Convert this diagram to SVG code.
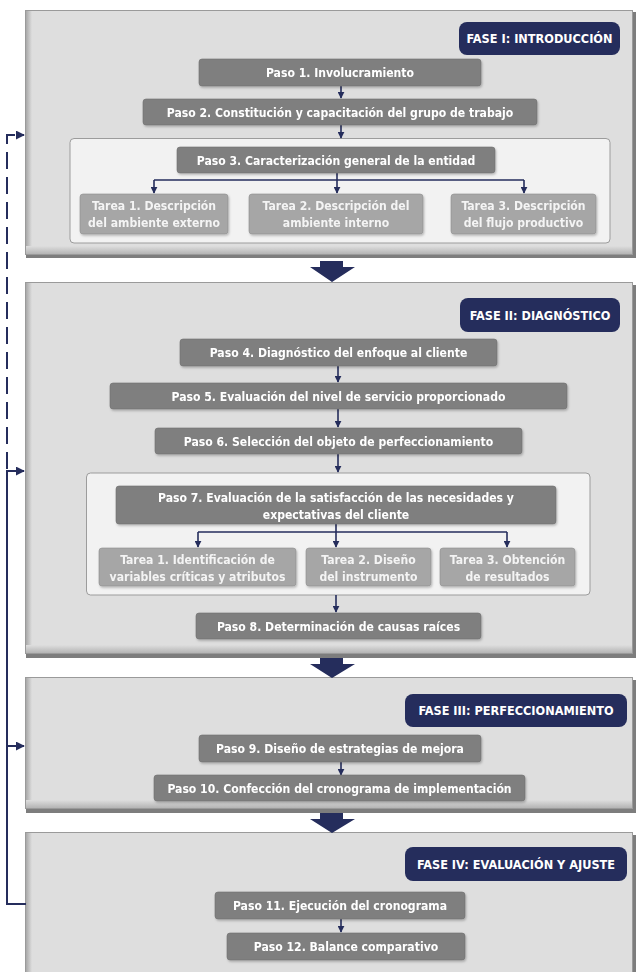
<svg xmlns="http://www.w3.org/2000/svg" width="636" height="972" viewBox="0 0 636 972">
<defs>
<style>
.phase{fill:#dedede;stroke:#9a9a9a;stroke-width:1}
.pshadow{fill:#7d7d7d}
.hdr{fill:#252d5c}
.hdrt{fill:#ffffff;font-family:"Liberation Sans Narrow","DejaVu Sans Condensed","Liberation Sans",sans-serif;font-weight:bold;font-size:12.6px;text-anchor:middle}
.paso{fill:#7f7f7f;stroke:#6e6e6e;stroke-width:0.6}
.tarea{fill:#a6a6a6;stroke:#8e8e8e;stroke-width:0.6}
.cont{fill:#f2f2f2;stroke:#9c9c9c;stroke-width:1}
.t{fill:#ffffff;font-family:"Liberation Sans Narrow","DejaVu Sans Condensed","Liberation Sans",sans-serif;font-weight:bold;font-size:12.1px;text-anchor:middle}
.tt{fill:#f4f4f4;font-family:"Liberation Sans Narrow","DejaVu Sans Condensed","Liberation Sans",sans-serif;font-weight:bold;font-size:12.1px;text-anchor:middle}
.ln{fill:none;stroke:#252d5c;stroke-width:1.6}
.fb{fill:none;stroke:#252d5c;stroke-width:2}
.chev{fill:#252d5c}
</style>
<marker id="ah" viewBox="0 0 10 10" refX="9" refY="5" markerWidth="7" markerHeight="7" orient="auto" markerUnits="userSpaceOnUse">
<path d="M0,0 L10,5 L0,10 z" fill="#252d5c"/>
</marker>
<marker id="ah2" viewBox="0 0 10 10" refX="9" refY="5" markerWidth="9" markerHeight="9" orient="auto" markerUnits="userSpaceOnUse">
<path d="M0,0 L10,5 L0,10 z" fill="#252d5c"/>
</marker>
<linearGradient id="lband" x1="0" y1="0" x2="1" y2="0">
<stop offset="0" stop-color="#a8a8a8"/>
<stop offset="1" stop-color="#dedede"/>
</linearGradient>
<linearGradient id="bband" x1="0" y1="0" x2="0" y2="1">
<stop offset="0" stop-color="#dedede"/>
<stop offset="1" stop-color="#b4b4b4"/>
</linearGradient>
<filter id="sh" x="-10%" y="-20%" width="130%" height="160%">
<feDropShadow dx="1" dy="1.5" stdDeviation="1" flood-color="#000" flood-opacity="0.25"/>
</filter>
</defs>

<g id="phase1">
<rect class="pshadow" x="26" y="12" width="610" height="246"/>
<rect class="phase" x="25.5" y="10.5" width="607" height="244"/>
<rect x="26" y="11" width="6" height="243" fill="url(#lband)"/>
<rect x="26" y="246" width="606" height="8" fill="url(#bband)"/>
</g>
<g id="phase2">
<rect class="pshadow" x="26" y="285" width="610" height="373"/>
<rect class="phase" x="25.5" y="282.5" width="607" height="371"/>
<rect x="26" y="283" width="6" height="370" fill="url(#lband)"/>
<rect x="26" y="645" width="606" height="8" fill="url(#bband)"/>
</g>
<g id="phase3">
<rect class="pshadow" x="26" y="680" width="610" height="133"/>
<rect class="phase" x="25.5" y="677.5" width="607" height="131"/>
<rect x="26" y="678" width="6" height="130" fill="url(#lband)"/>
<rect x="26" y="800" width="606" height="8" fill="url(#bband)"/>
</g>
<g id="phase4">
<rect class="pshadow" x="26" y="835" width="610" height="140"/>
<rect class="phase" x="25.5" y="832.5" width="607" height="142"/>
<rect x="26" y="833" width="6" height="140" fill="url(#lband)"/>
</g>

<g id="chevrons">
<path class="chev" d="M320,261 H343 V267 H355 L332,282 L310,267 H320 Z"/>
<path class="chev" d="M320,658 H343 V664 H355 L332,678 L310,664 H320 Z"/>
<path class="chev" d="M320,813 H343 V819 H355 L332,833 L310,819 H320 Z"/>
</g>

<g id="hdr1"><rect class="hdr" x="459" y="22" width="161" height="33" rx="8"/><text class="hdrt" x="539.5" y="43">FASE I: INTRODUCCIÓN</text></g>
<g id="hdr2"><rect class="hdr" x="460" y="298" width="160" height="34" rx="8"/><text class="hdrt" x="540" y="319.5">FASE II: DIAGNÓSTICO</text></g>
<g id="hdr3"><rect class="hdr" x="405" y="694" width="222" height="33" rx="8"/><text class="hdrt" x="516" y="715">FASE III: PERFECCIONAMIENTO</text></g>
<g id="hdr4"><rect class="hdr" x="405" y="847" width="222" height="34" rx="8"/><text class="hdrt" x="516" y="868.5">FASE IV: EVALUACIÓN Y AJUSTE</text></g>

<g id="cont3"><rect class="cont" x="70" y="138.5" width="540" height="104.5" rx="4"/></g>
<g id="cont7"><rect class="cont" x="86.5" y="473" width="503.5" height="122" rx="4"/></g>

<g id="connectors">
<line class="ln" x1="341" y1="86" x2="341" y2="98" marker-end="url(#ah)"/>
<line class="ln" x1="341" y1="125" x2="341" y2="138" marker-end="url(#ah)"/>
<path class="ln" d="M337,173 V180"/>
<path class="ln" d="M154,180 H524"/>
<line class="ln" x1="154" y1="180" x2="154" y2="193" marker-end="url(#ah)"/>
<line class="ln" x1="337" y1="180" x2="337" y2="193" marker-end="url(#ah)"/>
<line class="ln" x1="524" y1="180" x2="524" y2="193" marker-end="url(#ah)"/>
<line class="ln" x1="338" y1="366" x2="338" y2="382" marker-end="url(#ah)"/>
<line class="ln" x1="338" y1="409" x2="338" y2="427" marker-end="url(#ah)"/>
<line class="ln" x1="338" y1="454" x2="338" y2="472" marker-end="url(#ah)"/>
<path class="ln" d="M336,524 V532"/>
<path class="ln" d="M198,532 H507"/>
<line class="ln" x1="198" y1="532" x2="198" y2="547" marker-end="url(#ah)"/>
<line class="ln" x1="336" y1="532" x2="336" y2="547" marker-end="url(#ah)"/>
<line class="ln" x1="507" y1="532" x2="507" y2="547" marker-end="url(#ah)"/>
<line class="ln" x1="336" y1="595" x2="336" y2="612" marker-end="url(#ah)"/>
<line class="ln" x1="341" y1="762" x2="341" y2="775" marker-end="url(#ah)"/>
<line class="ln" x1="341" y1="919" x2="341" y2="932" marker-end="url(#ah)"/>
<path class="fb" d="M26,904 H7 V471 H24" marker-end="url(#ah2)"/>
<line class="fb" x1="7" y1="746" x2="24" y2="746" marker-end="url(#ah2)"/>
<path class="fb" d="M7,469 V135 H24" stroke-dasharray="17 8" marker-end="url(#ah2)"/>
</g>

<g id="paso1" filter="url(#sh)"><rect class="paso" x="199" y="59" width="282" height="27" rx="3"/><text class="t" x="340" y="77">Paso 1. Involucramiento</text></g>
<g id="paso2" filter="url(#sh)"><rect class="paso" x="143" y="99" width="394" height="26" rx="3"/><text class="t" x="340" y="116.5">Paso 2. Constitución y capacitación del grupo de trabajo</text></g>
<g id="paso3" filter="url(#sh)"><rect class="paso" x="177" y="147" width="318" height="26" rx="3"/><text class="t" x="336" y="164.5">Paso 3. Caracterización general de la entidad</text></g>
<g id="tarea1_3" filter="url(#sh)"><rect class="tarea" x="80" y="194" width="148" height="40" rx="3"/><text class="tt" x="154" y="210">Tarea 1. Descripción</text><text class="tt" x="154" y="227">del ambiente externo</text></g>
<g id="tarea2_3" filter="url(#sh)"><rect class="tarea" x="249" y="194" width="174" height="40" rx="3"/><text class="tt" x="336" y="210">Tarea 2. Descripción del</text><text class="tt" x="336" y="227">ambiente interno</text></g>
<g id="tarea3_3" filter="url(#sh)"><rect class="tarea" x="451" y="194" width="145" height="40" rx="3"/><text class="tt" x="523.5" y="210">Tarea 3. Descripción</text><text class="tt" x="523.5" y="227">del flujo productivo</text></g>

<g id="paso4" filter="url(#sh)"><rect class="paso" x="180" y="339" width="317" height="27" rx="3"/><text class="t" x="338.5" y="357">Paso 4. Diagnóstico del enfoque al cliente</text></g>
<g id="paso5" filter="url(#sh)"><rect class="paso" x="110" y="383" width="457" height="26" rx="3"/><text class="t" x="338.5" y="400.5">Paso 5. Evaluación del nivel de servicio proporcionado</text></g>
<g id="paso6" filter="url(#sh)"><rect class="paso" x="155" y="428" width="367" height="26" rx="3"/><text class="t" x="338.5" y="445.5">Paso 6. Selección del objeto de perfeccionamiento</text></g>
<g id="paso7" filter="url(#sh)"><rect class="paso" x="116" y="486" width="440" height="38" rx="3"/><text class="t" x="336" y="501.5">Paso 7. Evaluación de la satisfacción de las necesidades y</text><text class="t" x="336" y="518.5">expectativas del cliente</text></g>
<g id="tarea1_7" filter="url(#sh)"><rect class="tarea" x="99" y="548" width="197" height="38" rx="3"/><text class="tt" x="197.5" y="563.5">Tarea 1. Identificación de</text><text class="tt" x="197.5" y="581">variables críticas y atributos</text></g>
<g id="tarea2_7" filter="url(#sh)"><rect class="tarea" x="306" y="548" width="125" height="38" rx="3"/><text class="tt" x="368.5" y="563.5">Tarea 2. Diseño</text><text class="tt" x="368.5" y="581">del instrumento</text></g>
<g id="tarea3_7" filter="url(#sh)"><rect class="tarea" x="440" y="548" width="135" height="38" rx="3"/><text class="tt" x="507.5" y="563.5">Tarea 3. Obtención</text><text class="tt" x="507.5" y="581">de resultados</text></g>
<g id="paso8" filter="url(#sh)"><rect class="paso" x="196" y="613" width="285" height="26" rx="3"/><text class="t" x="338.5" y="630.5">Paso 8. Determinación de causas raíces</text></g>

<g id="paso9" filter="url(#sh)"><rect class="paso" x="199" y="735" width="282" height="27" rx="3"/><text class="t" x="340" y="753">Paso 9. Diseño de estrategias de mejora</text></g>
<g id="paso10" filter="url(#sh)"><rect class="paso" x="154" y="775" width="371" height="26" rx="3"/><text class="t" x="339.5" y="792.5">Paso 10. Confección del cronograma de implementación</text></g>

<g id="paso11" filter="url(#sh)"><rect class="paso" x="215" y="892" width="250" height="27" rx="3"/><text class="t" x="340" y="910">Paso 11. Ejecución del cronograma</text></g>
<g id="paso12" filter="url(#sh)"><rect class="paso" x="227" y="933" width="238" height="27" rx="3"/><text class="t" x="346" y="951">Paso 12. Balance comparativo</text></g>
</svg>
